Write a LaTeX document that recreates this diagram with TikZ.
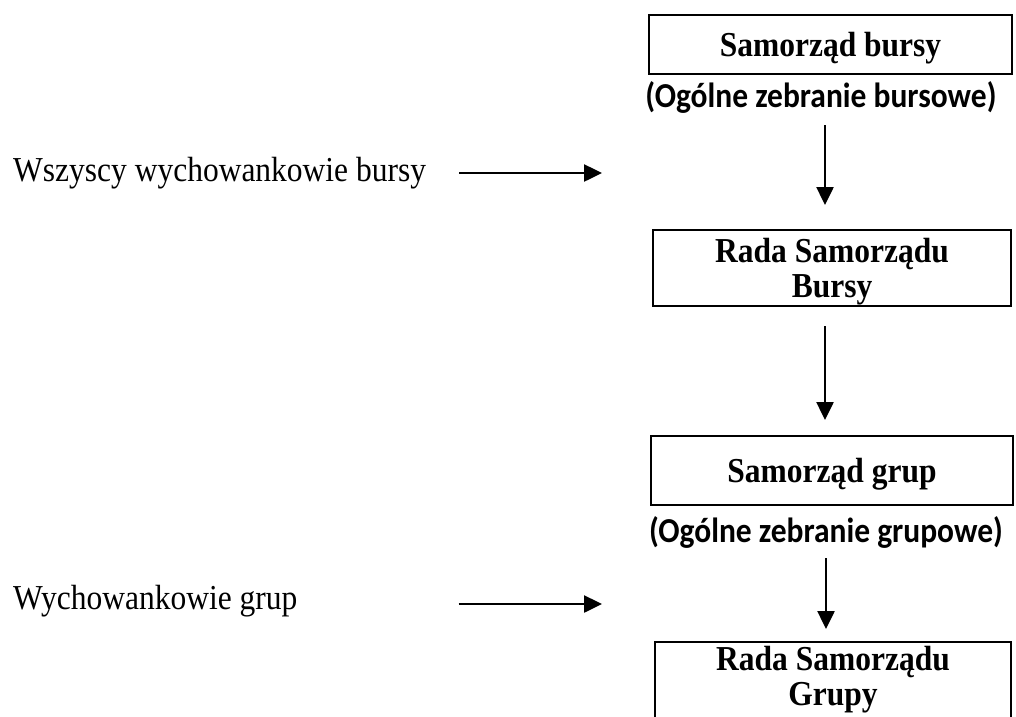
\documentclass[tikz,border=0pt]{standalone}
\usepackage{fontspec}
\setmainfont{Liberation Serif}[FakeStretch=0.9]
\newfontfamily\calib{Carlito}[FakeStretch=0.9]
\usetikzlibrary{arrows.meta,calc}
\begin{document}
\begin{tikzpicture}[x=1pt,y=-1pt,
  box/.style={draw,line width=2pt,inner sep=0pt,align=center,font=\fontsize{35}{35}\selectfont\bfseries},
  onebox/.style={box,text depth=0pt},
  sub/.style={inner sep=0pt,anchor=base,font=\fontsize{35}{35}\selectfont\calib\bfseries},
  lbl/.style={inner sep=0pt,anchor=base west,font=\fontsize{35}{35}\selectfont},
  arr/.style={line width=2.5pt,-{Triangle[length=18pt,width=17pt]}}]
\useasboundingbox (0,0) rectangle (1016,716);
\clip (0,0) rectangle (1016,716);
% boxes
\node[onebox,minimum width=363pt,minimum height=59pt] (b1) at (830.5,44.5) {Samorząd bursy};
\node[onebox,minimum width=358pt,minimum height=76pt] (b2) at (832,268) {Rada Samorządu\\Bursy};
\node[onebox,minimum width=362pt,minimum height=69pt] (b3) at (832,470.5) {Samorząd grup};
\node[box,minimum width=356pt,minimum height=76pt] (b4) at (833,680) {Rada Samorządu\\Grupy};
% subtitles
\node[sub] (s1) at (821,107) {(Ogólne zebranie bursowe)};
\node[sub] (s2) at (826,542) {(Ogólne zebranie grupowe)};
% left labels
\node[lbl] (w1) at (13,181) {Wszyscy wychowankowie bursy};
\node[lbl] (w2) at (13,609) {Wychowankowie grup};
% helper coordinates
\coordinate (ax) at (825,0);
\coordinate (ax2) at (826,0);
\coordinate (t1) at (602,173);
\coordinate (t2) at (602,604);
% vertical arrows
\draw[arr,shorten <=12pt,shorten >=24pt] (s1.south -| ax) -- (b2.north -| ax);
\draw[arr,shorten <=19pt,shorten >=15pt] (b2.south -| ax) -- (b3.north -| ax);
\draw[arr,shorten <=10pt,shorten >=12pt] (s2.south -| ax2) -- (b4.north -| ax2);
% horizontal arrows
\draw[arr,shorten <=33pt] (w1.east |- t1) -- (t1);
\draw[arr,shorten <=161pt] (w2.east |- t2) -- (t2);
\end{tikzpicture}
\end{document}
